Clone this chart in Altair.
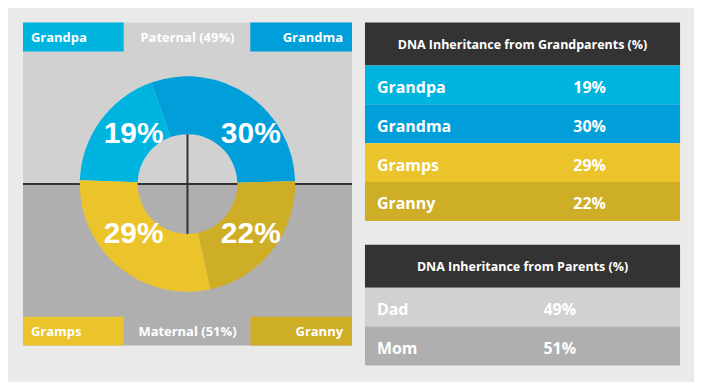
import math
import numpy as np
import pandas as pd
import altair as alt

# ---------------- data ----------------
names = ["Grandpa", "Grandma", "Gramps", "Granny"]
values = [19, 30, 29, 22]
lineage = ["Paternal", "Paternal", "Maternal", "Maternal"]
side = ["left", "right", "left", "right"]
ring_order = [0, 1, 3, 2]          # clockwise order round the ring
colors = ["#00B4E0", "#009FDA", "#EAC42A", "#CFAE27"]

parents = ["Dad", "Mom"]
parent_values = [49, 51]
parent_lineage = ["Paternal", "Maternal"]
parent_colors = ["#D1D1D1", "#AFAFAF"]

title_gp = "DNA Inheritance from Grandparents (%)"
title_par = "DNA Inheritance from Parents (%)"

# ---------------- layout ----------------
F = "Open Sans"
PW, PH = 330, 324
BAND = 29
CX, CY = PW / 2, PH / 2
R_IN, R_OUT = 50, 108
START = math.radians(272)
TW, HH, RH = 316, 43, 39

gp = pd.DataFrame(dict(name=names, value=values, lineage=lineage, side=side, ring=ring_order))
gp["pct"] = gp["value"].astype(str) + "%"
is_left = gp["side"] == "left"
is_top = gp["lineage"] == "Paternal"
gp["bx0"] = np.where(is_left, 0, 228)
gp["bx1"] = np.where(is_left, 101, PW)
gp["by0"] = np.where(is_top, 0, PH - BAND)
gp["by1"] = np.where(is_top, BAND, PH)
gp["ly"] = (gp["by0"] + gp["by1"]) / 2
gp["lx"] = np.where(is_left, 8, PW - 9)
gp["px"] = np.where(is_left, 111, 228.5)
gp["py"] = np.where(is_top, 121, 221)

par = pd.DataFrame(dict(name=parents, value=parent_values, lineage=parent_lineage))
par["pct"] = par["value"].astype(str) + "%"
par["title"] = par["lineage"] + " (" + par["pct"] + ")"
par["y0"] = [0, CY]
par["y1"] = [CY, PH]
par["ly"] = [BAND / 2, PH - BAND / 2]
par["lx"] = CX

lines = pd.DataFrame({"x0": [0, CX], "x1": [PW, CX], "y0": [CY, CY - R_IN], "y1": [CY, CY + R_IN]})

xs = alt.Scale(domain=[0, PW], nice=False, zero=False)
ys = alt.Scale(domain=[0, PH], nice=False, zero=False, reverse=True)


def X(f):
    return alt.X(f, type="quantitative", scale=xs, axis=None)


def Y(f):
    return alt.Y(f, type="quantitative", scale=ys, axis=None)


gp_color = alt.Color("name:N", scale=alt.Scale(domain=names, range=colors), legend=None)
par_color = alt.Color("name:N", scale=alt.Scale(domain=parents, range=parent_colors), legend=None)

halves = alt.Chart(par).mark_rect().encode(
    x=alt.value(0), x2=alt.value(PW), y=Y("y0"), y2=alt.Y2("y1"), color=par_color)
cross = alt.Chart(lines).mark_rule(color="#333333", strokeWidth=2).encode(
    x=X("x0"), x2=alt.X2("x1"), y=Y("y0"), y2=alt.Y2("y1"))
boxes = alt.Chart(gp).mark_rect().encode(
    x=X("bx0"), x2=alt.X2("bx1"), y=Y("by0"), y2=alt.Y2("by1"), color=gp_color)
ring = alt.Chart(gp).mark_arc(innerRadius=R_IN, outerRadius=R_OUT).encode(
    theta=alt.Theta("value:Q", stack=True, scale=alt.Scale(range=[START, START + 2 * math.pi])),
    color=gp_color, order=alt.Order("ring:Q"))
lab_l = alt.Chart(gp).transform_filter("datum.side == 'left'").mark_text(
    align="left", baseline="middle", color="white", font=F, fontWeight="bold", fontSize=13, dy=1
).encode(x=X("lx"), y=Y("ly"), text="name:N")
lab_r = alt.Chart(gp).transform_filter("datum.side == 'right'").mark_text(
    align="right", baseline="middle", color="white", font=F, fontWeight="bold", fontSize=13, dy=1
).encode(x=X("lx"), y=Y("ly"), text="name:N")
lab_c = alt.Chart(par).mark_text(
    align="center", baseline="middle", color="white", font=F, fontWeight="bold", fontSize=13, dy=1
).encode(x=X("lx"), y=Y("ly"), text="title:N")
pct = alt.Chart(gp).mark_text(
    align="center", baseline="alphabetic", color="white", font="Liberation Sans",
    fontWeight="bold", fontSize=30
).encode(x=X("px"), y=Y("py"), text="pct:N")

left_panel = alt.layer(halves, cross, boxes, ring, lab_l, lab_r, lab_c, pct).properties(
    width=PW, height=PH).resolve_scale(color="independent")


def header(title):
    df = pd.DataFrame({"title": [title]})
    rect = alt.Chart(df).mark_rect(color="#333333").encode(
        x=alt.value(0), x2=alt.value(TW), y=alt.value(0), y2=alt.value(HH))
    txt = alt.Chart(df).mark_text(color="white", font=F, fontWeight="bold", fontSize=12.5,
                                  align="center", baseline="middle", dy=1).encode(
        x=alt.value(TW / 2), y=alt.value(HH / 2), text="title:N")
    return alt.layer(rect, txt).properties(width=TW, height=HH)


def rows(df, domain, rng, value_x):
    base = alt.Chart(df).encode(
        y=alt.Y("name:N", sort=domain, axis=None,
                scale=alt.Scale(domain=domain, paddingInner=0, paddingOuter=0)))
    rect = base.mark_rect().encode(
        x=alt.value(0), x2=alt.value(TW),
        color=alt.Color("name:N", scale=alt.Scale(domain=domain, range=rng), legend=None))
    name_t = base.mark_text(align="left", baseline="middle", color="white", font=F,
                            fontWeight="bold", fontSize=16, dy=3).encode(x=alt.value(12), text="name:N")
    val_t = base.mark_text(align="left", baseline="middle", color="white", font=F,
                           fontWeight="bold", fontSize=16, dy=3).encode(x=alt.value(value_x), text="pct:N")
    return alt.layer(rect, name_t, val_t).properties(width=TW, height=RH * len(domain))


gp_rows = gp[["name", "pct"]]
par_rows = par[["name", "pct"]]

t1 = alt.vconcat(header(title_gp), rows(gp_rows, names, colors, 209), spacing=0).resolve_scale(color="independent")
t2 = alt.vconcat(header(title_par), rows(par_rows, parents, parent_colors, 179), spacing=0).resolve_scale(color="independent")
right = alt.vconcat(t1, t2, spacing=24).resolve_scale(color="independent")

chart = alt.hconcat(left_panel, right, spacing=12).resolve_scale(color="independent").properties(
    padding={"left": 14, "top": 14, "right": 14, "bottom": 16},
    background="#EAEAEA",
).configure_view(strokeWidth=0)

chart.save("out.html", embed_options={"renderer": "svg", "actions": False})
